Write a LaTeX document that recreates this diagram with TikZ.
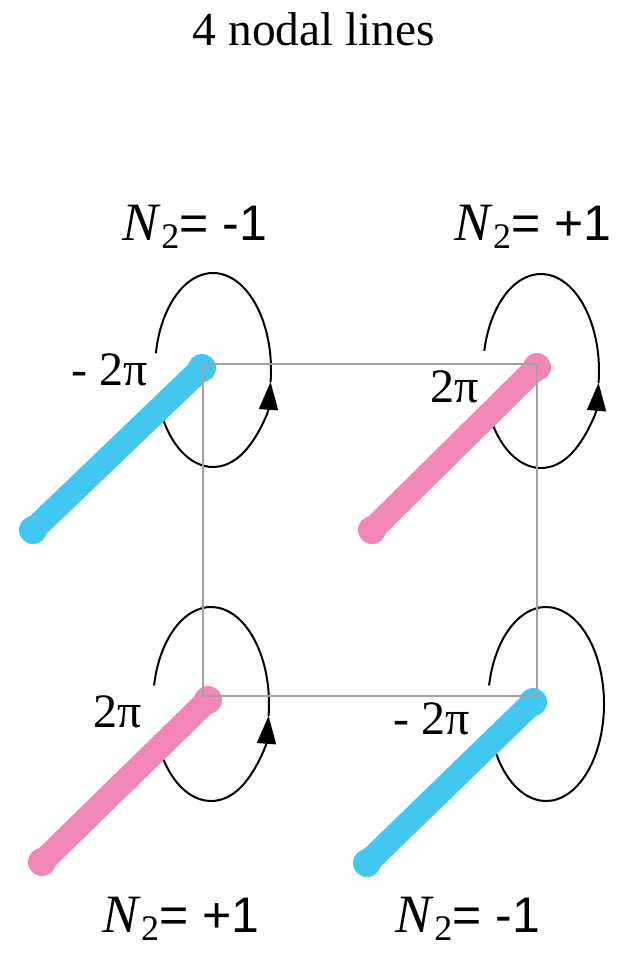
\documentclass[tikz,border=0pt]{standalone}
\usepackage{fontspec}
\setmainfont{Liberation Serif}
\setsansfont{Liberation Sans}
\newfontfamily\timesfont{Liberation Serif}
\usetikzlibrary{arrows.meta}

\definecolor{cyanline}{RGB}{66,199,240}
\definecolor{pinkline}{RGB}{240,135,182}
\definecolor{cellgray}{RGB}{160,162,166}

\begin{document}
\begin{tikzpicture}[
    x=0.5pt,y=-0.5pt,
    every node/.style={inner sep=0pt,anchor=base},
    nodal/.style={line width=12pt,line cap=round},
    windloop/.style={line width=1pt,black},
    windarrow/.style={-{Triangle[length=14pt,width=9.5pt]}},
    cellbox/.style={line width=1.1pt,cellgray},
    nlab/.style={font=\timesfont\fontsize{27pt}{32pt}\selectfont},
    phaselab/.style={font=\timesfont\fontsize{24pt}{28pt}\selectfont}
  ]
    \useasboundingbox (0,0) rectangle (618,953);
    % corners of the cell and ends of the nodal lines
    \coordinate (sqa) at (203,364);
    \coordinate (sqc) at (537,696);
    \coordinate (tl0) at (33,530);  \coordinate (tl1) at (202,368);
    \coordinate (tr0) at (372,530); \coordinate (tr1) at (537,367);
    \coordinate (bl0) at (42,862);  \coordinate (bl1) at (208,700);
    \coordinate (br0) at (367,863); \coordinate (br1) at (533,702);
    % centres of the winding loops
    \coordinate (tlc) at (213,370);
    \coordinate (trc) at (541,371);
    \coordinate (blc) at (211,704);
    \coordinate (brc) at (546,704);

    \node (title) at (314,45) {\timesfont\fontsize{23.7pt}{28pt}\selectfont 4 nodal lines};

    \draw[windloop,windarrow] (tlc) ++(210:29pt and 48.5pt) arc[start angle=210,end angle=353,x radius=29pt,y radius=48.5pt];
    \draw[windloop] (tlc) ++(353:29pt and 48.5pt) arc[start angle=353,end angle=530,x radius=29pt,y radius=48.5pt];
    \draw[windloop,windarrow] (trc) ++(213:29pt and 48.5pt) arc[start angle=213,end angle=353,x radius=29pt,y radius=48.5pt];
    \draw[windloop] (trc) ++(353:29pt and 48.5pt) arc[start angle=353,end angle=528,x radius=29pt,y radius=48.5pt];
    \draw[windloop,windarrow] (blc) ++(213:29pt and 48.5pt) arc[start angle=213,end angle=353,x radius=29pt,y radius=48.5pt];
    \draw[windloop] (blc) ++(353:29pt and 48.5pt) arc[start angle=353,end angle=529,x radius=29pt,y radius=48.5pt];
    \draw[windloop] (brc) ++(208:29pt and 48.5pt) arc[start angle=208,end angle=529,x radius=29pt,y radius=48.5pt];

    \draw[nodal,cyanline] (tl0) -- (tl1);
    \draw[nodal,pinkline] (tr0) -- (tr1);
    \draw[nodal,pinkline] (bl0) -- (bl1);
    \draw[nodal,cyanline] (br0) -- (br1);
    \foreach \p in {tl0,tl1,br0,br1} \fill[cyanline] (\p) circle[radius=7pt];
    \foreach \p in {tr0,tr1,bl0,bl1} \fill[pinkline] (\p) circle[radius=7pt];

    \draw[cellbox] (sqa) rectangle (sqc);

    \node[nlab] (ntl) at (195,240) {\textit{N}\raisebox{-4pt}{\fontsize{18pt}{20pt}\selectfont 2}{\sffamily\fontsize{25pt}{30pt}\selectfont = -1}};
    \node[nlab] (ntr) at (533,240) {\textit{N}\raisebox{-4pt}{\fontsize{18pt}{20pt}\selectfont 2}{\sffamily\fontsize{25pt}{30pt}\selectfont = +1}};
    \node[nlab] (nbl) at (181,932) {\textit{N}\raisebox{-4pt}{\fontsize{18pt}{20pt}\selectfont 2}{\sffamily\fontsize{25pt}{30pt}\selectfont = +1}};
    \node[nlab] (nbr) at (468,932) {\textit{N}\raisebox{-4pt}{\fontsize{18pt}{20pt}\selectfont 2}{\sffamily\fontsize{25pt}{30pt}\selectfont = -1}};

    \node[phaselab] (ptl) at (110,385) {- 2π};
    \node[phaselab] (ptr) at (455,402) {2π};
    \node[phaselab] (pbl) at (118,727) {2π};
    \node[phaselab] (pbr) at (432,734) {- 2π};
  \end{tikzpicture}
\end{document}
